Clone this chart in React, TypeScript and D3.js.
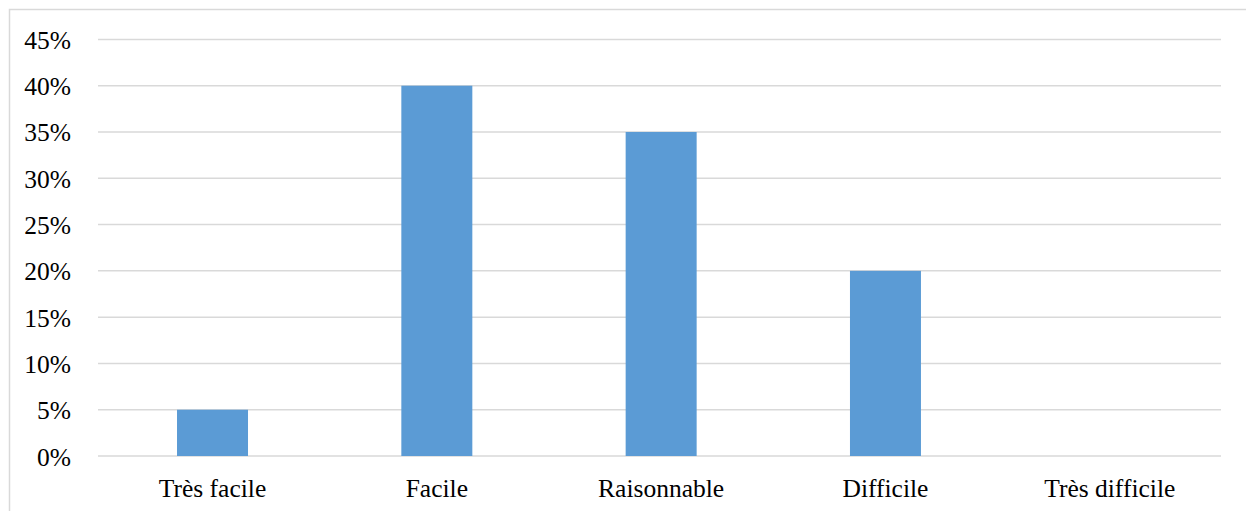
import React from "react";
import * as d3 from "d3";

const categories = ["Très facile", "Facile", "Raisonnable", "Difficile", "Très difficile"];
const values = [0.05, 0.4, 0.35, 0.2, 0];
const yTicks = [0, 0.05, 0.1, 0.15, 0.2, 0.25, 0.3, 0.35, 0.4, 0.45];

const W = 1246;
const H = 511;
const gridLeft = 98;
const gridRight = 1221;
const yZero = 456;
const yTop = 39.4;

export default function App() {
  const x = d3.scaleBand<string>().domain(categories).range([100.3, 1222]).paddingInner(0.6835).paddingOuter(0.342);
  const y = d3.scaleLinear().domain([0, 0.45]).range([yZero, yTop]);
  const fmt = d3.format(".0%");
  const font = "'Liberation Serif', 'Times New Roman', serif";
  return (
    <div style={{ position: "absolute", left: 0, top: 0 }}>
      <svg width={W} height={H} style={{ display: "block" }}>
        <rect x={0} y={0} width={W} height={H} fill="#ffffff" />
        <rect x={9.5} y={9.5} width={W + 20} height={H + 20} fill="none" stroke="#d9d9d9" strokeWidth={1.5} />
        {yTicks.map((t) => (
          <g key={t}>
            <line x1={gridLeft} x2={gridRight} y1={y(t)} y2={y(t)} stroke="#d9d9d9" strokeWidth={1.5} />
            <text x={71} y={y(t) + 1} textAnchor="end" dominantBaseline="central" fontFamily={font} fontSize={25.5} fill="#000">
              {fmt(t)}
            </text>
          </g>
        ))}
        {categories.map((c, i) => (
          <g key={c}>
            {values[i] > 0 && (
              <rect x={x(c)} y={y(values[i])} width={x.bandwidth()} height={yZero - y(values[i])} fill="#5b9bd5" />
            )}
            <text x={(x(c) as number) + x.bandwidth() / 2} y={497} textAnchor="middle" fontFamily={font} fontSize={25.5} fill="#000">
              {c}
            </text>
          </g>
        ))}
      </svg>
    </div>
  );
}
